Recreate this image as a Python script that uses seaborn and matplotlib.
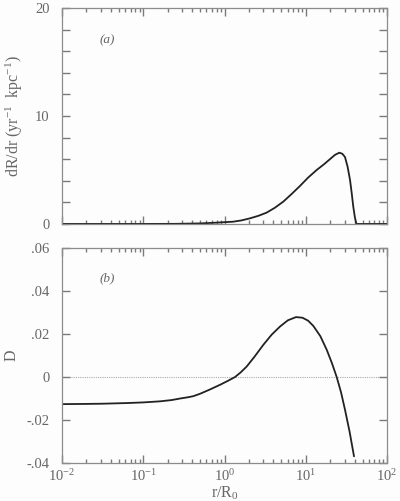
import matplotlib
matplotlib.use("Agg")
import matplotlib.pyplot as plt
import matplotlib.ticker as mticker
import numpy as np
import seaborn as sns

# panel (a): dR/dr versus log10(r/R0)
log_r_a = [-2.0, -1.0, -0.6, -0.3, -0.1, 0.108, 0.21, 0.314, 0.42, 0.519,
           0.62, 0.724, 0.83, 0.929, 1.03, 1.135, 1.22, 1.298, 1.36, 1.413,
           1.45, 1.483, 1.515, 1.545, 1.565, 1.585, 1.605, 1.62, 1.627, 2.0]
rate_a = [0.0, 0.0, 0.01, 0.05, 0.12, 0.21, 0.33, 0.52, 0.76, 1.05,
          1.5, 2.07, 2.8, 3.52, 4.3, 5.0, 5.5, 6.0, 6.4, 6.6,
          6.5, 6.2, 5.3, 4.07, 2.9, 1.6, 0.6, 0.1, 0.0, 0.0]

# panel (b): D versus log10(r/R0)
log_r_b = [-2.0, -1.7, -1.5, -1.204, -1.0, -0.794, -0.65, -0.548, -0.45, -0.384,
           -0.302, -0.18, -0.055, 0.04, 0.129, 0.2, 0.273, 0.37, 0.478, 0.58,
           0.683, 0.78, 0.88, 0.96, 1.03, 1.093, 1.18, 1.258, 1.32, 1.381,
           1.435, 1.483, 1.54, 1.594]
d_b = [-0.0126, -0.0125, -0.0124, -0.0121, -0.0118, -0.0113, -0.0107, -0.0100, -0.0094, -0.0089,
       -0.0078, -0.0058, -0.0036, -0.0018, 0.0, 0.0022, 0.0049, 0.0095, 0.0150, 0.0197,
       0.0235, 0.0264, 0.0279, 0.0276, 0.0262, 0.0238, 0.0190, 0.0127, 0.0067, 0.0,
       -0.0072, -0.0152, -0.0255, -0.0369]

a_yticks = [0, 10, 20]
b_yticks = [-0.04, -0.02, 0.0, 0.02, 0.04, 0.06]
b_yticklabels = ['-.04', '-.02', '0', '.02', '.04', '.06']
x_ticks = [1e-2, 1e-1, 1e0, 1e1, 1e2]
x_ticklabels = [r'10$^{-2}$', r'10$^{-1}$', r'10$^{0}$', r'10$^{1}$', r'10$^{2}$']
x_minor = [k * d for d in x_ticks[:-1] for k in range(2, 10)]

sns.set_theme(style="ticks")
plt.rcParams['font.family'] = ['Liberation Serif', 'DejaVu Serif']
plt.rcParams['mathtext.fontset'] = 'custom'
plt.rcParams['mathtext.rm'] = 'Liberation Serif'
plt.rcParams['mathtext.it'] = 'Liberation Serif:italic'

text_col = "#666666"
frame_col = "#8c8c8c"
tick_col = "#7a7a7a"
line_col = "#222222"

fig = plt.figure(figsize=(4.0, 5.01), dpi=100)
fig.patch.set_facecolor("#fdfdfd")
ax_a = fig.add_axes([0.155, 0.553, 0.8125, 0.431])
ax_b = fig.add_axes([0.155, 0.0758, 0.8125, 0.429])

sns.lineplot(x=10 ** np.array(log_r_a), y=rate_a, ax=ax_a, sort=False,
             estimator=None, color=line_col, linewidth=1.3)
sns.lineplot(x=10 ** np.array(log_r_b), y=d_b, ax=ax_b, sort=False,
             estimator=None, color=line_col, linewidth=1.3)
ax_b.axhline(0, color="#aaaaaa", linewidth=0.8, linestyle=(0, (1, 1)), zorder=0)

for ax in (ax_a, ax_b):
    ax.set_facecolor("#fdfdfd")
    ax.set_xscale('log')
    ax.set_xlim(1e-2, 1e2)
    ax.set_xticks(x_ticks)
    ax.set_xticks(x_minor, minor=True)
    ax.xaxis.set_minor_formatter(mticker.NullFormatter())
    ax.tick_params(which='both', direction='in', top=True, right=True,
                   bottom=True, left=True, color=tick_col,
                   labelcolor=text_col, labelsize=10.5)
    ax.tick_params(which='major', length=6, width=1.0)
    ax.tick_params(which='minor', length=3.2, width=1.0)
    ax.tick_params(axis='y', pad=9)
    for spine in ax.spines.values():
        spine.set_color(frame_col)
        spine.set_linewidth(0.9)

ax_a.set_xticklabels([])
ax_a.set_ylim(0, 20)
ax_a.set_yticks(a_yticks)
ax_a.yaxis.set_minor_locator(mticker.MultipleLocator(2))
ax_a.tick_params(axis='y', which='minor', length=6)
ax_a.set_ylabel(r'dR/dr (yr$^{-1}$  kpc$^{-1}$)', color=text_col, fontsize=11.5)
ax_a.yaxis.set_label_coords(-0.115, 0.5)
ax_a.text(0.14, 0.85, '(a)', transform=ax_a.transAxes, color=text_col,
          fontsize=9.5, fontstyle='italic', ha='center', va='center')

ax_b.set_ylim(-0.04, 0.06)
ax_b.set_yticks(b_yticks)
ax_b.set_yticklabels(b_yticklabels)
ax_b.yaxis.set_minor_locator(mticker.NullLocator())
ax_b.set_xticklabels(x_ticklabels)
ax_b.tick_params(axis='x', pad=4)
ax_b.set_ylabel('D', color=text_col, fontsize=11.5)
ax_b.yaxis.set_label_coords(-0.13, 0.5)
ax_b.set_xlabel(r'r/R$_0$', color=text_col, fontsize=11.5)
ax_b.xaxis.set_label_coords(0.5, -0.1)
ax_b.text(0.14, 0.86, '(b)', transform=ax_b.transAxes, color=text_col,
          fontsize=9.5, fontstyle='italic', ha='center', va='center')

fig.savefig("out.png", dpi=100, facecolor=fig.get_facecolor())
